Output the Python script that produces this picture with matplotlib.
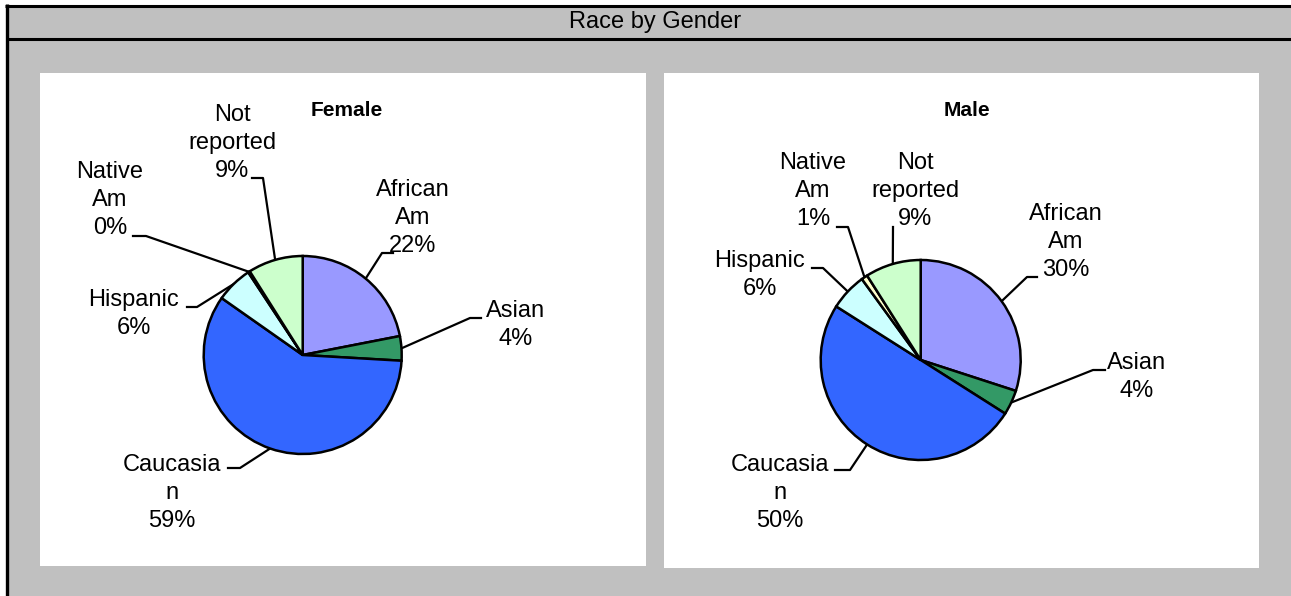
import numpy as np
import matplotlib.pyplot as plt
from matplotlib.patches import Rectangle

plt.rcParams['font.family'] = ['Liberation Sans', 'DejaVu Sans']

# Данные
categories = ['African\nAm', 'Asian', 'Caucasia\nn', 'Hispanic', 'Native\nAm', 'Not\nreported']
female = [22, 4, 59, 6, 0.3, 9]
male = [30, 4, 50, 6, 1, 9]
colors = ['#9999FF', '#339966', '#3366FF', '#CCFFFF', '#FFFFCC', '#CCFFCC']

W, H = 1291, 596
GRAY = '#C0C0C0'

# Раскладка подписей: центр текста, излом выноски, конец выноски (пиксели картинки)
female_layout = {
    'center': (302.7, 355), 'radius': 99,
    'text': [(413, 218), (516, 325), (172, 493), (134, 314), (110, 200), (232, 143)],
    'elbow': [(382, 253), (470, 318), (240, 468), (197, 307), (146, 236), (263, 178)],
    'end': [(393, 253), (481, 318), (228, 468), (187, 307), (133, 236), (252, 178)],
}
male_layout = {
    'center': (920.7, 360), 'radius': 100,
    'text': [(1066, 242), (1137, 377), (780, 493), (760, 275), (813, 191), (915, 191)],
    'elbow': [(1027, 277), (1093, 370), (850, 470), (823, 268), (848, 227), (893, 227)],
    'end': [(1037, 277), (1105, 370), (835, 470), (812, 268), (837, 227), (893, 227)],
}

fig = plt.figure(figsize=(W / 100, H / 100), dpi=100)
ax = fig.add_axes([0, 0, 1, 1])


def fy(y):
    # перевод y картинки (сверху вниз) в координаты осей
    return H - y


# Фон и рамки
ax.add_patch(Rectangle((6, 0), W - 6, fy(5), facecolor=GRAY, edgecolor='none', zorder=0))
ax.plot([5, W + 2], [fy(5.5), fy(5.5)], color='black', lw=2.2, solid_capstyle='butt', zorder=0.5)
ax.plot([7, 7], [-2, fy(4)], color='black', lw=2.4, solid_capstyle='butt', zorder=0.5)
ax.plot([7, W + 2], [fy(38.5), fy(38.5)], color='black', lw=2.2, solid_capstyle='butt', zorder=0.5)
ax.text(655, fy(22), 'Race by Gender', ha='center', va='center', fontsize=17)

# Белые панели
ax.add_patch(Rectangle((40, fy(566)), 606, 566 - 72.7, facecolor='white', edgecolor='none', zorder=0.6))
ax.add_patch(Rectangle((664, fy(568)), 595, 568 - 72.7, facecolor='white', edgecolor='none', zorder=0.6))


def draw_pie(values, layout, title, title_xy):
    cx, cy = layout['center']
    r = layout['radius']
    total = sum(values)
    wedges, _ = ax.pie(values, colors=colors, startangle=90, counterclock=False,
                       center=(cx, fy(cy)), radius=r,
                       wedgeprops=dict(edgecolor='black', linewidth=1.8))
    for w in wedges:
        w.set_zorder(3)
    ax.text(title_xy[0], fy(title_xy[1]), title, ha='center', va='center',
            fontsize=15, fontweight='bold')
    for i, w in enumerate(wedges):
        mid = np.deg2rad((w.theta1 + w.theta2) / 2)
        x0 = cx + r * np.cos(mid)
        y0 = fy(cy) + r * np.sin(mid)
        ex, ey = layout['elbow'][i]
        sx, sy = layout['end'][i]
        ax.plot([x0, ex, sx], [y0, fy(ey), fy(sy)], color='black', lw=1.6, zorder=2)
        pct = values[i] / total * 100
        tx, ty = layout['text'][i]
        ax.text(tx, fy(ty), f"{categories[i]}\n{pct:.0f}%", ha='center', va='center',
                multialignment='center', fontsize=17, linespacing=1.36, zorder=4)


draw_pie(female, female_layout, 'Female', (347, 110))
draw_pie(male, male_layout, 'Male', (967, 110))

ax.set_xlim(0, W)
ax.set_ylim(0, H)
ax.set_aspect('auto')
ax.axis('off')

fig.savefig('out.png', dpi=100, facecolor='white')
